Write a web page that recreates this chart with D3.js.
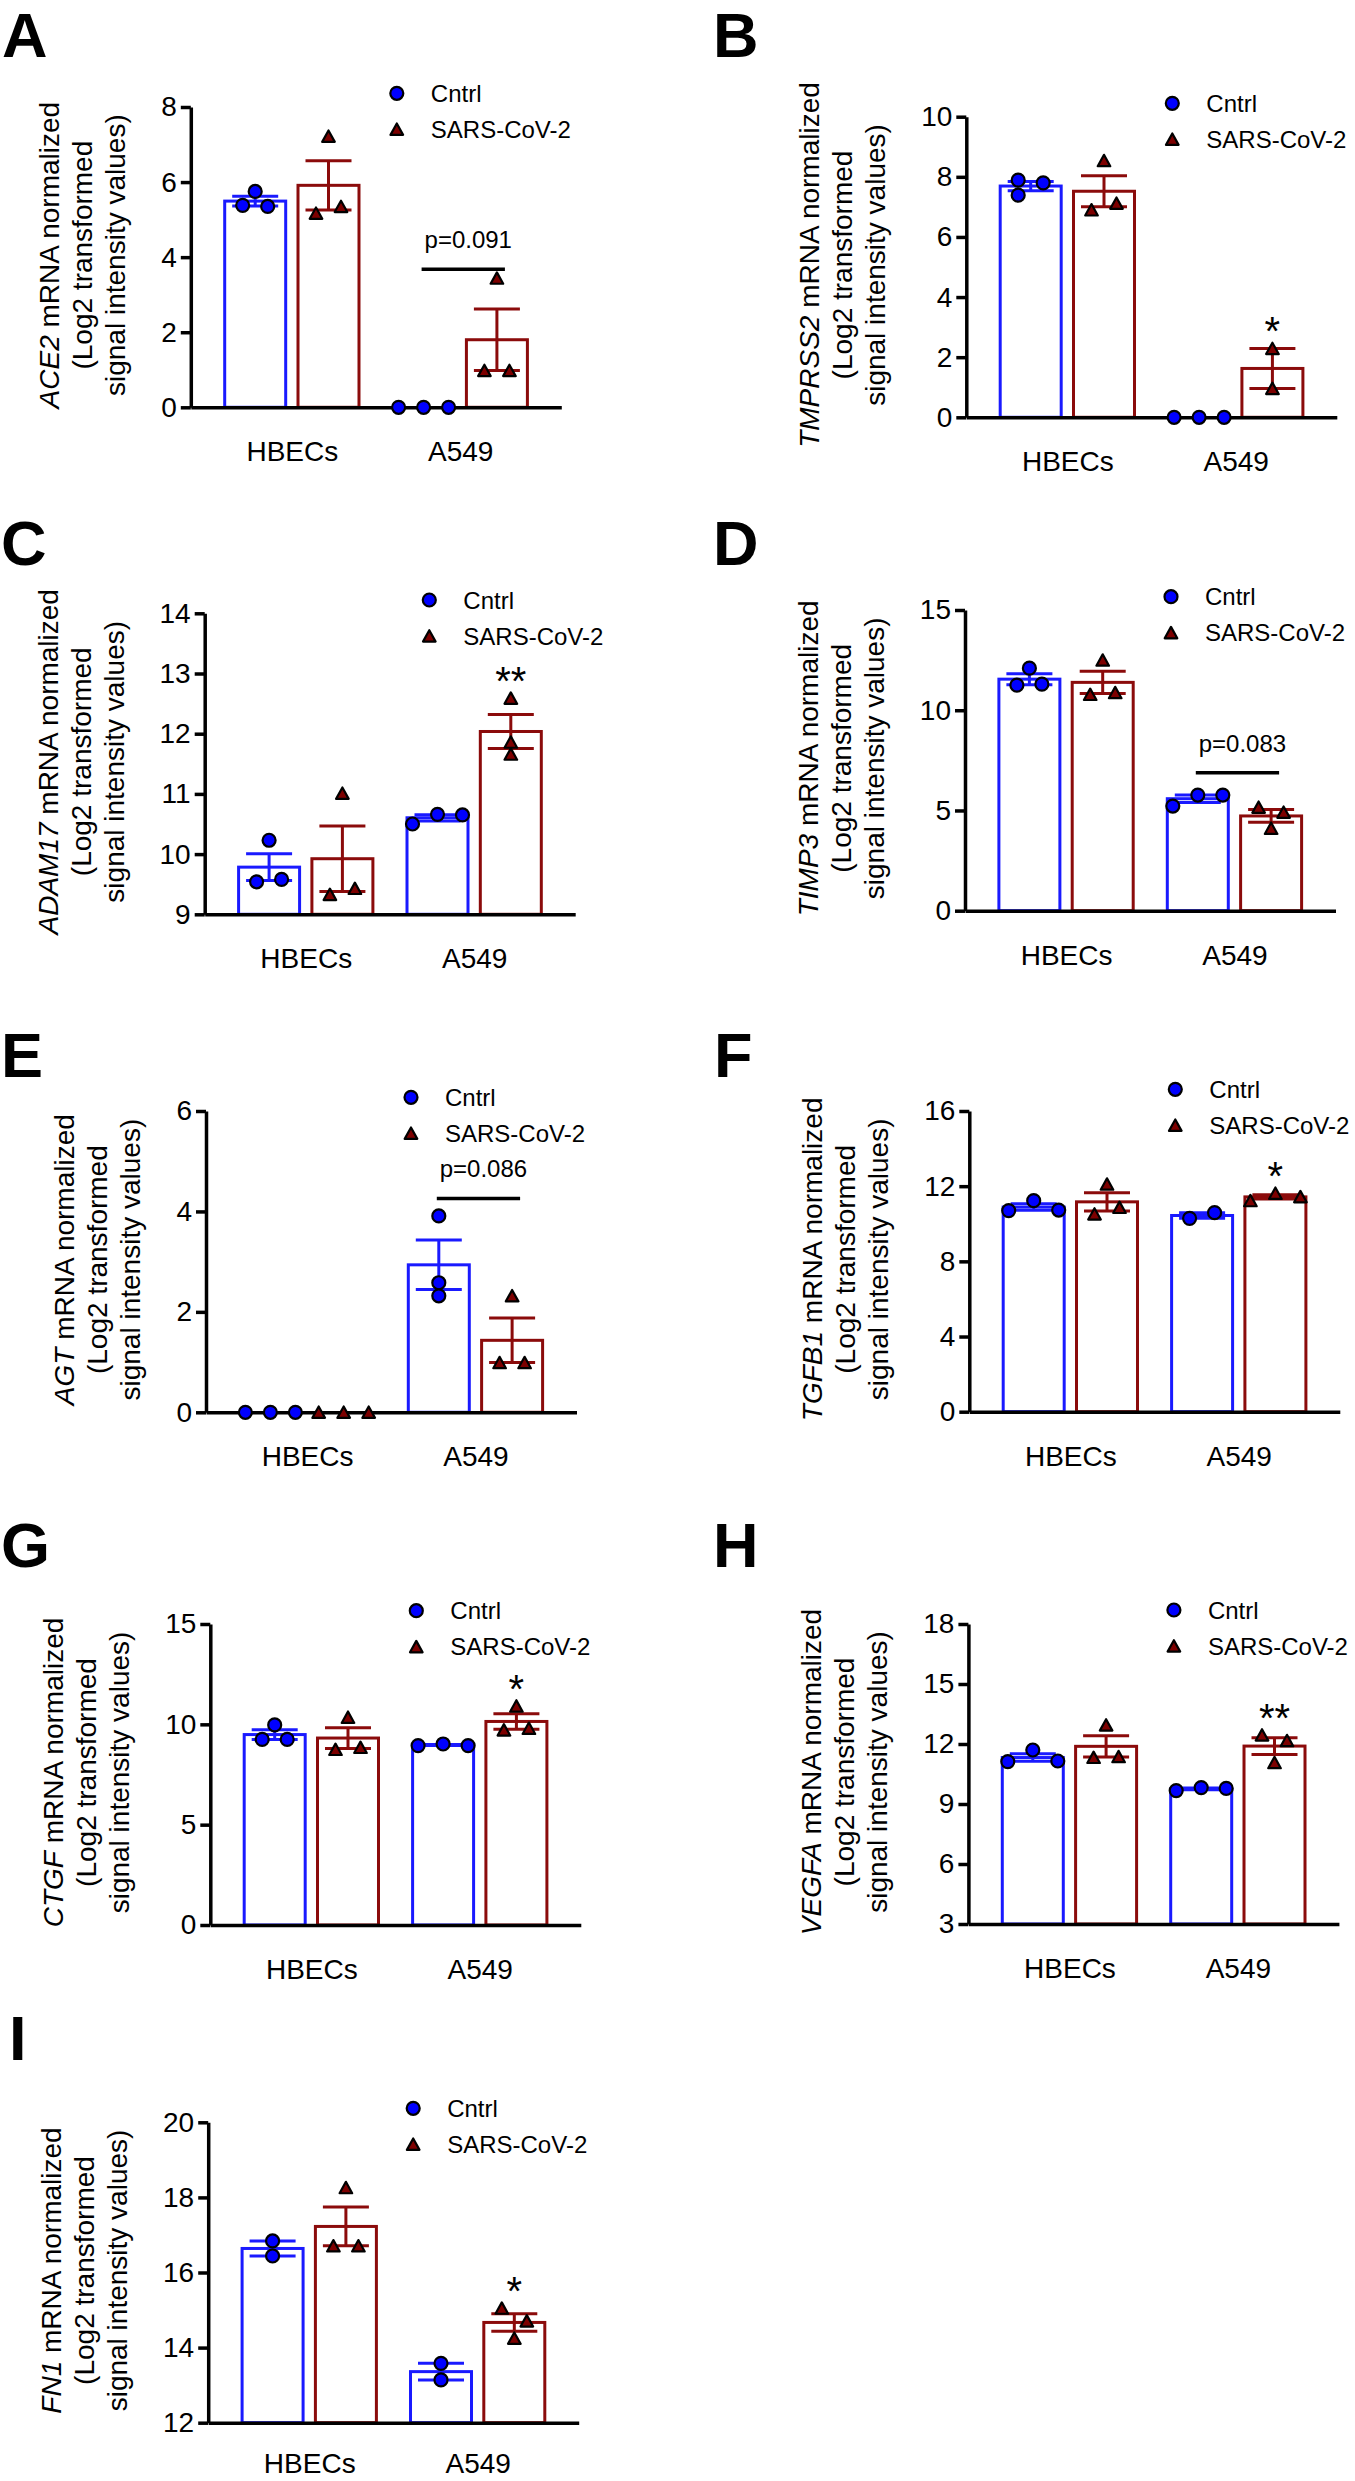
<!DOCTYPE html>
<html><head><meta charset="utf-8">
<script src="https://cdn.jsdelivr.net/npm/d3@7"></script>
<style>
body{margin:0;background:#fff}
svg{display:block}
text{font-family:"Liberation Sans",Arial,Helvetica,sans-serif;fill:#000}
</style>
</head><body>
<svg id="chart" width="1355" height="2481"></svg>
<script>
// ---------------- DATA ----------------
const groups = ["HBECs", "A549"];
const series = ["Cntrl", "SARS-CoV-2"];
const letters = ["A","B","C","D","E","F","G","H","I"];
const genes = ["ACE2","TMPRSS2","ADAM17","TIMP3","AGT","TGFB1","CTGF","VEGFA","FN1"];
const yDomains = [[0,8],[0,10],[9,14],[0,15],[0,6],[0,16],[0,15],[3,18],[12,20]];
const yTicks = [
  [0,2,4,6,8],
  [0,2,4,6,8,10],
  [9,10,11,12,13,14],
  [0,5,10,15],
  [0,2,4,6],
  [0,4,8,12,16],
  [0,5,10,15],
  [3,6,9,12,15,18],
  [12,14,16,18,20]
];
// replicate values per bar: [HBECs Cntrl, HBECs SARS, A549 Cntrl, A549 SARS]
const ACE2    = [[5.38,5.75,5.35],[5.17,7.22,5.35],[0,0,0],[0.98,3.44,0.98]];
const TMPRSS2 = [[7.89,7.39,7.80],[6.90,8.54,7.12],[0,0,0],[2.29,0.96]];
const ADAM17  = [[9.54,10.23,9.58],[9.33,11.01,9.43],[10.50,10.66,10.65],[12.59,11.86,11.66]];
const TIMP3   = [[11.25,12.10,11.30],[10.79,12.50,10.88],[5.22,5.77,5.77],[5.16,4.11,4.91]];
const AGT     = [[0,0,0],[0,0,0],[3.91,2.58,2.32],[0.99,2.32,0.99]];
const TGFB1   = [[10.70,11.23,10.73],[10.52,12.11,10.87],[10.29,10.59],[11.23,11.62,11.44]];
const CTGF    = [[9.25,9.97,9.25],[8.75,10.35,8.85],[8.94,9.02,8.94],[9.72,10.91,9.80]];
const VEGFA   = [[11.12,11.70,11.15],[11.33,12.95,11.37],[9.67,9.82,9.78],[12.45,11.07,12.17]];
const FN1     = [[16.84,16.44],[16.71,18.26,16.71],[13.58,13.14],[15.05,14.25,14.71]];
const panelValues = [ACE2, TMPRSS2, ADAM17, TIMP3, AGT, TGFB1, CTGF, VEGFA, FN1];
// horizontal scatter slot of each replicate (Prism-style spread)
const ACE2_slots    = [[-1,0,1],[-1,0,1],[-2,0,2],[-1,0,1]];
const TMPRSS2_slots = [[-1,-1,1],[-1,0,1],[-2,0,2],[0,0]];
const ADAM17_slots  = [[-1,0,1],[-1,0,1],[-2,0,2],[0,0,0]];
const TIMP3_slots   = [[-1,0,1],[-1,0,1],[-2,0,2],[-1,0,1]];
const AGT_slots     = [[-2,0,2],[-2,0,2],[0,0,0],[-1,0,1]];
const TGFB1_slots   = [[-2,0,2],[-1,0,1],[-1,1],[-2,0,2]];
const CTGF_slots    = [[-1,0,1],[-1,0,1],[-2,0,2],[-1,0,1]];
const VEGFA_slots   = [[-2,0,2],[-1,0,1],[-2,0,2],[-1,0,1]];
const FN1_slots     = [[0,0],[-1,0,1],[0,0],[-1,0,1]];
const panelSlots = [ACE2_slots, TMPRSS2_slots, ADAM17_slots, TIMP3_slots, AGT_slots, TGFB1_slots, CTGF_slots, VEGFA_slots, FN1_slots];
// significance annotations (on A549)
const stars = ["", "*", "**", "", "", "*", "*", "**", "*"];
const pLabels = ["p=0.091", "", "", "p=0.083", "p=0.086", "", "", "", ""];
const pLineValues = [3.68, null, null, 6.88, 4.26, null, null, null, null];

// ---------------- LAYOUT ----------------
const layout = [
  {x0:190.8, yTop:107,    yBot:407.3,  lxL:2,   lyL:57,   legDx:206,   legDy:-13.7, xPad:34},
  {x0:966.3, yTop:116.7,  yBot:417.3,  lxL:713, lyL:57,   legDx:206,   legDy:-13.4, xPad:34},
  {x0:204.7, yTop:613.3,  yBot:914.3,  lxL:1,   lyL:565,  legDx:224.6, legDy:-13.3, xPad:34},
  {x0:965,   yTop:610,    yBot:910.7,  lxL:713, lyL:565,  legDx:206,   legDy:-13.3, xPad:34},
  {x0:206,   yTop:1111,   yBot:1412.3, lxL:1,   lyL:1077, legDx:205,   legDy:-13.7, xPad:34},
  {x0:969.3, yTop:1111,   yBot:1411.7, lxL:714, lyL:1077, legDx:206,   legDy:-21.7, xPad:34},
  {x0:210.3, yTop:1624,   yBot:1925,   lxL:1,   lyL:1567, legDx:206,   legDy:-13.3, xPad:34},
  {x0:968.4, yTop:1624,   yBot:1924,   lxL:713, lyL:1567, legDx:205.5, legDy:-14,   xPad:34},
  {x0:208.2, yTop:2122.3, yBot:2422.7, lxL:9,   lyL:2060, legDx:205,   legDy:-14,   xPad:30.5}
];
const AXIS_LEN = 370.5;
const BLUE_BAR = "#1a1aff", RED_BAR = "#8b0b0b";
const BLUE_PT = "#0000ff", RED_PT = "#7d0000";
const SLOT = 12.5;
const triPath = "M0,-5.8L6.3,5.6L-6.3,5.6Z";

const svg = d3.select("#chart");
svg.append("rect").attr("width",1355).attr("height",2481).attr("fill","#fff");

function mean(a){ return d3.mean(a); }
function sem(a){ return a.length > 1 ? d3.deviation(a) / Math.sqrt(a.length) : 0; }

panelValues.forEach((vals, p) => {
  const L = layout[p];
  const g = svg.append("g");
  const y = d3.scaleLinear().domain(yDomains[p]).range([L.yBot, L.yTop]);
  const xg = d3.scalePoint().domain(groups).range([L.x0, L.x0 + AXIS_LEN]).padding(0.6);
  const xs = d3.scaleBand().domain(series).range([-67.15, 67.15]).paddingInner(0.168);
  const bw = xs.bandwidth();

  // panel letter
  g.append("text").attr("x", L.lxL).attr("y", L.lyL)
    .attr("font-size", 63).attr("font-weight", "bold").text(letters[p]);

  const bars = [];
  groups.forEach((gr, gi) => series.forEach((s, si) => {
    const v = vals[gi*2 + si];
    bars.push({gr, s, si, v, slots: panelSlots[p][gi*2 + si], m: mean(v), e: sem(v),
      cx: xg(gr) + xs(s) + bw/2});
  }));

  // bars
  bars.forEach(b => {
    if (b.m <= yDomains[p][0]) return;
    g.append("rect").attr("x", b.cx - bw/2).attr("y", y(b.m))
      .attr("width", bw).attr("height", y(yDomains[p][0]) - y(b.m))
      .attr("fill", "#fff").attr("stroke", b.si === 0 ? BLUE_BAR : RED_BAR).attr("stroke-width", 3);
  });
  // error bars
  bars.forEach(b => {
    if (b.e <= 0) return;
    const col = b.si === 0 ? BLUE_BAR : RED_BAR;
    const eg = g.append("g").attr("stroke", col).attr("stroke-width", 3);
    eg.append("line").attr("x1", b.cx).attr("x2", b.cx).attr("y1", y(b.m - b.e)).attr("y2", y(b.m + b.e));
    [b.m - b.e, b.m + b.e].forEach(v => eg.append("line")
      .attr("x1", b.cx - 23).attr("x2", b.cx + 23).attr("y1", y(v)).attr("y2", y(v)));
  });

  // axes
  const ax = g.append("g").attr("transform", `translate(${L.x0},0)`)
    .call(d3.axisLeft(y).tickValues(yTicks[p]).tickFormat(d3.format("d"))
      .tickSize(10).tickSizeOuter(0).tickPadding(4));
  ax.select(".domain").attr("stroke-width", 3.5);
  ax.selectAll(".tick line").attr("stroke-width", 3.5);
  ax.selectAll(".tick text").attr("font-size", 28).attr("font-family", "Liberation Sans, Arial, sans-serif");
  const bx = g.append("g").attr("transform", `translate(0,${L.yBot})`)
    .call(d3.axisBottom(xg).tickSize(0).tickSizeOuter(0).tickPadding(L.xPad));
  bx.select(".domain").attr("stroke-width", 3.5);
  bx.selectAll(".tick text").attr("font-size", 28).attr("font-family", "Liberation Sans, Arial, sans-serif");

  // y label
  let maxW = 0;
  ax.selectAll(".tick text").each(function(){ maxW = Math.max(maxW, this.getBBox().width); });
  const base3 = L.x0 - 14 - maxW - 36;
  const yc = (L.yTop + L.yBot) / 2 - 2;
  const yl = g.append("g").attr("transform", `translate(${base3},${yc}) rotate(-90)`)
    .attr("font-size", 28).attr("text-anchor", "middle");
  const t1 = yl.append("text").attr("x", 0).attr("y", -66);
  t1.append("tspan").attr("font-style", "italic").text(genes[p]);
  t1.append("tspan").text(" mRNA normalized");
  yl.append("text").attr("x", 0).attr("y", -33).text("(Log2 transformed");
  yl.append("text").attr("x", 0).attr("y", 0).text("signal intensity values)");

  // points
  bars.forEach(b => {
    b.v.forEach((v, i) => {
      const px = b.cx + b.slots[i] * SLOT, py = y(v);
      if (b.si === 0) {
        g.append("circle").attr("cx", px).attr("cy", py).attr("r", 6.5)
          .attr("fill", BLUE_PT).attr("stroke", "#000").attr("stroke-width", 2.2);
      } else {
        g.append("path").attr("d", triPath).attr("transform", `translate(${px},${py})`)
          .attr("fill", RED_PT).attr("stroke", "#000").attr("stroke-width", 2.2).attr("stroke-linejoin", "round");
      }
    });
  });

  // annotations on A549
  const a549c = bars[2], a549s = bars[3];
  if (pLabels[p]) {
    const ly = y(pLineValues[p]);
    g.append("line").attr("x1", a549c.cx - 2).attr("x2", a549s.cx + 8)
      .attr("y1", ly).attr("y2", ly).attr("stroke", "#000").attr("stroke-width", 3.5);
    g.append("text").attr("x", (a549c.cx + a549s.cx) / 2 + 8).attr("y", ly - 21)
      .attr("text-anchor", "middle").attr("font-size", 24).text(pLabels[p]);
  }
  if (stars[p]) {
    const top = Math.min(y(d3.max(a549s.v)), y(a549s.m + a549s.e));
    g.append("text").attr("x", a549s.cx).attr("y", top - 3)
      .attr("text-anchor", "middle").attr("font-size", 40).text(stars[p]);
  }

  // legend
  const lx = L.x0 + L.legDx, ly1 = L.yTop + L.legDy, ly2 = ly1 + 36;
  g.append("circle").attr("cx", lx).attr("cy", ly1).attr("r", 6.5)
    .attr("fill", BLUE_PT).attr("stroke", "#000").attr("stroke-width", 2.2);
  g.append("path").attr("d", triPath).attr("transform", `translate(${lx},${ly2})`)
    .attr("fill", RED_PT).attr("stroke", "#000").attr("stroke-width", 2.2).attr("stroke-linejoin", "round");
  g.append("text").attr("x", lx + 34).attr("y", ly1 + 8.5).attr("font-size", 24).text(series[0]);
  g.append("text").attr("x", lx + 34).attr("y", ly2 + 8.5).attr("font-size", 24).text(series[1]);
});
</script>
</body></html>
